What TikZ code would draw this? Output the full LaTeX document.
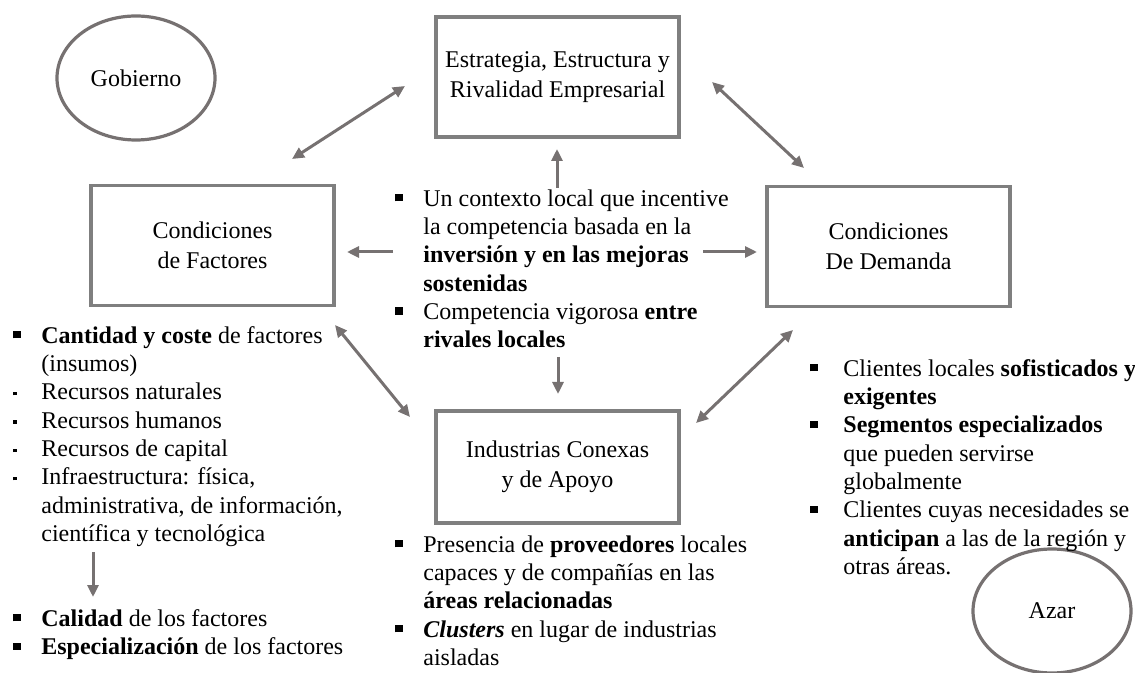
\documentclass[tikz,border=0pt]{standalone}
\usepackage{fontspec}
\setmainfont{Liberation Serif}
\usetikzlibrary{arrows.meta,positioning,shapes.geometric}
\definecolor{boxgray}{HTML}{7F7F7F}
\definecolor{arrgray}{HTML}{767171}
\newcommand{\bsq}{\rule[2.4pt]{3.6pt}{3.6pt}}
\newcommand{\ssq}{\rule[2.2pt]{1.7pt}{1.7pt}}

\begin{document}
\begin{tikzpicture}[x=0.5pt,y=-0.5pt,
 box/.style={draw=boxgray,line width=1.6pt,align=center,minimum width=121.5pt,
 minimum height=60pt,inner sep=0pt,font=\fontsize{12}{15}\selectfont},
 oval/.style={ellipse,draw=arrgray,line width=1.6pt,minimum width=79pt,
 minimum height=62pt,inner sep=0pt,font=\fontsize{12}{14}\selectfont},
 lst/.style={anchor=north west,inner sep=0pt,align=left,
 font=\fontsize{12}{14.15}\selectfont},
 link/.style={draw=arrgray,line width=1.5pt},
 >={Triangle[length=6pt,width=5.5pt]}]
\useasboundingbox (0,0) rectangle (1135,673);
\clip (0,0) rectangle (1135,673);
% the four boxes and the two ovals
\node[oval] (gob) at (136,78) {Gobierno};
\node[box] (estr) at (557.5,77) {Estrategia, Estructura y\\Rivalidad Empresarial};
\node[box] (fact) at (212.5,245.5) {Condiciones\\de Factores};
\node[box] (dem) at (888.5,246.5) {Condiciones\\De Demanda};
\node[box,minimum height=56pt] (ind) at (557.5,467) {Industrias Conexas\\y de Apoyo};
\node[oval] (azar) at (1052,611) {Azar};
% bullet lists
\node[lst] (ctxtxt) at (395,186) {\begin{tabular}{@{}p{14pt}@{}l@{}}
\bsq & Un contexto local que incentive\\
 & la competencia basada en la\\
 & \textbf{inversión y en las mejoras}\\
 & \textbf{sostenidas}\\
\bsq & Competencia vigorosa \textbf{entre}\\
 & \textbf{rivales locales}
\end{tabular}};
\node[lst] (facttxt) at (13,323) {\begin{tabular}{@{}p{14pt}@{}l@{}}
\bsq & \textbf{Cantidad y coste} de factores\\
 & (insumos)\\
\ssq & Recursos naturales\\
\ssq & Recursos humanos\\
\ssq & Recursos de capital\\
\ssq & Infraestructura: física,\\
 & administrativa, de información,\\
 & científica y tecnológica
\end{tabular}};
\node[lst] (caltxt) at (13,606) {\begin{tabular}{@{}p{14pt}@{}l@{}}
\bsq & \textbf{Calidad} de los factores\\
\bsq & \textbf{Especialización} de los factores
\end{tabular}};
\node[lst] (demtxt) at (810,356) {\begin{tabular}{@{}p{16.5pt}@{}l@{}}
\bsq & Clientes locales \textbf{sofisticados y}\\
 & \textbf{exigentes}\\
\bsq & \textbf{Segmentos especializados}\\
 & que pueden servirse\\
 & globalmente\\
\bsq & Clientes cuyas necesidades se\\
 & \textbf{anticipan} a las de la región y\\
 & otras áreas.
\end{tabular}};
\node[lst] (indtxt) at (395,532) {\begin{tabular}{@{}p{14pt}@{}l@{}}
\bsq & Presencia de \textbf{proveedores} locales\\
 & capaces y de compañías en las\\
 & \textbf{áreas relacionadas}\\
\bsq & \textbf{\textit{Clusters}} en lugar de industrias\\
 & aisladas
\end{tabular}};
% arrow ends
\coordinate (ef1) at (405,86);
\coordinate (ef2) at (292,159);
\coordinate (ed1) at (712,82);
\coordinate (ed2) at (804,168);
\coordinate (fi1) at (335,325);
\coordinate (fi2) at (410,417);
\coordinate (di1) at (793,330);
\coordinate (di2) at (696,423);
\coordinate (up1) at (557,188);
\coordinate (up2) at (557,149);
\coordinate (lf1) at (393,252);
\coordinate (lf2) at (347,252);
\coordinate (rt1) at (703,252);
\coordinate (rt2) at (757,252);
\coordinate (dn1) at (558,357);
\coordinate (dn2) at (558,394);
\coordinate (fq1) at (93,552);
\coordinate (fq2) at (93,597);
\draw[link,<->] (ef1) -- (ef2);
\draw[link,<->] (ed1) -- (ed2);
\draw[link,<->] (fi1) -- (fi2);
\draw[link,<->] (di1) -- (di2);
\draw[link,->] (up1) -- (up2);
\draw[link,->] (lf1) -- (lf2);
\draw[link,->] (rt1) -- (rt2);
\draw[link,->] (dn1) -- (dn2);
\draw[link,->] (fq1) -- (fq2);
\end{tikzpicture}
\end{document}
